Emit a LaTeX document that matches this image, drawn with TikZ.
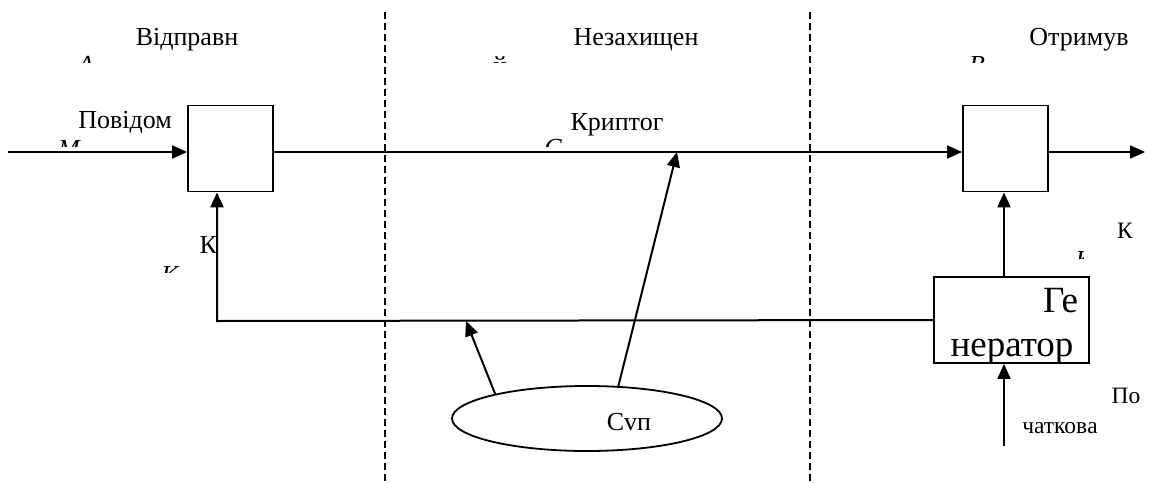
\documentclass[tikz,border=0pt]{standalone}
\usepackage{fontspec}
\setmainfont{Liberation Serif}
\usetikzlibrary{arrows.meta,shapes.geometric}
\begin{document}
\begin{tikzpicture}[x=1pt,y=-1pt,
  line width=2pt,
  boxst/.style={draw, line width=1.8pt, inner sep=0pt, minimum width=85pt, minimum height=86pt},
  arr/.style={-{Triangle[length=15pt,width=13pt]}},
  lbl/.style={font=\fontsize{26}{30}\selectfont, inner sep=0pt, anchor=base},
  sml/.style={font=\fontsize{23.5}{28}\selectfont, inner sep=0pt, anchor=base},
  big/.style={font=\fontsize{37}{42}\selectfont, inner sep=0pt, anchor=base},
  frag/.style={font=\fontsize{26}{30}\selectfont\itshape, inner sep=0pt, anchor=base},
  sepline/.style={dash pattern=on 7pt off 4pt, line width=1.5pt}
]
\useasboundingbox (0,0) rectangle (1153,482);

% boundaries
\coordinate (d1t) at (385,12); \coordinate (d1b) at (385,482);
\coordinate (d2t) at (810,12); \coordinate (d2b) at (810,482);
\draw[sepline] (d1t) -- (d1b);
\draw[sepline] (d2t) -- (d2b);

% nodes
\node[boxst] (enc) at (230.5,148.5) {};
\node[boxst] (dec) at (1005.5,148.5) {};
\node[draw, line width=1.8pt, inner sep=0pt, minimum width=155pt, minimum height=86pt] (gen) at (1011.5,320) {};
\node[ellipse, draw, line width=1.8pt, inner sep=0pt, minimum width=270pt, minimum height=65pt] (src) at (587,418.5) {};

% coordinates for free ends
\coordinate (in) at (8,152);
\coordinate (out) at (1145,152);
\coordinate (hit1) at (677,152);
\coordinate (hit2) at (466,321);
\coordinate (fb) at (217,321);
\coordinate (iv) at (1004,446);

% connectors
\draw[arr] (in) -- (in -| enc.west);
\draw[arr] (in -| enc.east) -- (in -| dec.west);
\draw[arr] (in -| dec.east) -- (out);
\draw[arr] (src.46) -- (hit1);
\draw[arr] (src.165) -- (hit2);
\draw[arr] (gen.west) -- (fb) -- (fb |- enc.south);
\draw[arr] (iv |- gen.north) -- (iv |- dec.south);
\draw[arr] (iv) -- (iv |- gen.south);

% labels
\node[lbl] (t1) at (187,45) {Відправн};
\node[lbl] (t2) at (636,45) {Незахищен};
\node[lbl] (t3) at (1079,45) {Отримув};
\node[lbl] (t4) at (125,128) {Повідом};
\node[lbl] (t5) at (617,130) {Криптог};
\node[lbl, anchor=base east] (t6) at (218,253) {К};
\node[sml] (t7) at (1125,238) {К};
\node[sml] (t8) at (1126,403) {По};
\node[sml] (t9) at (1060,433) {чатковa};
\node[lbl] (t10) at (629,430) {Cvп};
\node[big, anchor=base east] (t11) at (1079,312) {Ге};
\node[big] (t12) at (1012,356) {нератор};

% clipped second-line fragments
\begin{scope}\clip (75,55) rectangle (100,62.5); \node[frag] (f1) at (86,73.5) {А};\end{scope}
\begin{scope}\clip (490,55) rectangle (510,62.5); \node[lbl] (f2) at (500,74) {й};\end{scope}
\begin{scope}\clip (965,55) rectangle (990,62.5); \node[frag] (f3) at (977,73.5) {В};\end{scope}
\begin{scope}\clip (50,139) rectangle (90,146.5); \node[frag] (f4) at (69,157.5) {М};\end{scope}
\begin{scope}\clip (535,137) rectangle (572,146); \node[frag] (f5) at (553,156) {С};\end{scope}
\begin{scope}\clip (158,264) rectangle (185,272); \node[frag] (f6) at (170,283) {К};\end{scope}
\begin{scope}\clip (1076,250) rectangle (1083,258.5); \node[frag] (f7) at (1084,268) {К};\end{scope}
\end{tikzpicture}
\end{document}
